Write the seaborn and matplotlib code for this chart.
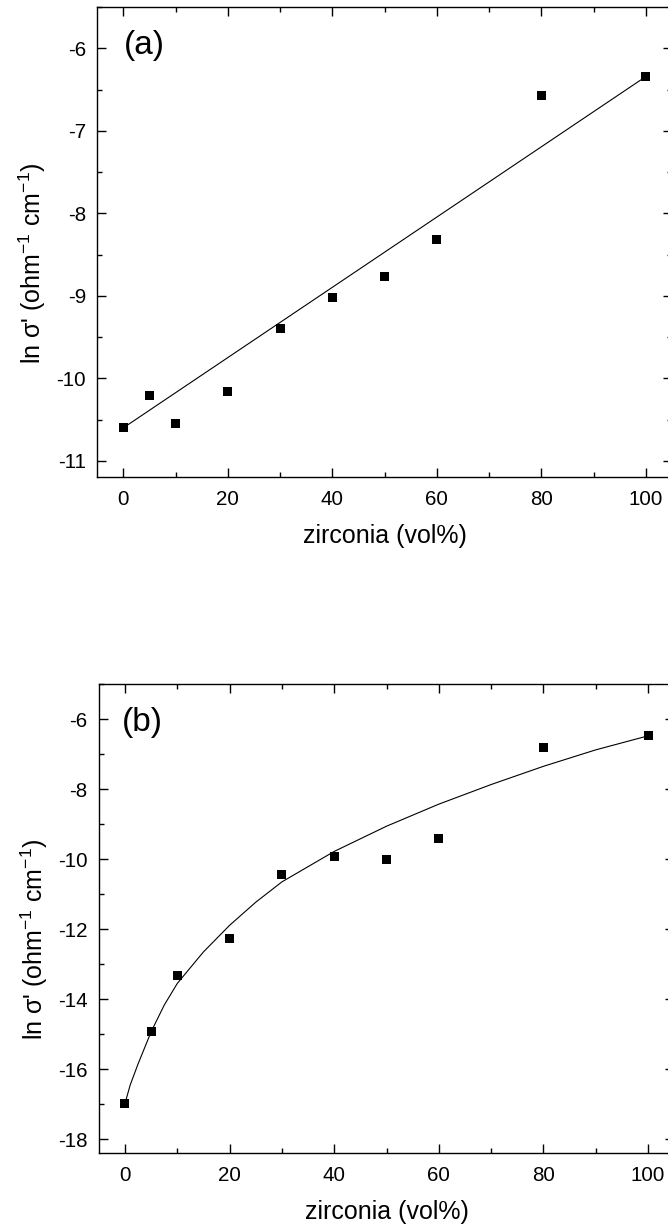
import numpy as np
import pandas as pd
import matplotlib
matplotlib.use('Agg')
import matplotlib.pyplot as plt
from matplotlib.ticker import MultipleLocator
import seaborn as sns

# ----------------------------
# Data
# ----------------------------
zirconia = [0, 5, 10, 20, 30, 40, 50, 60, 80, 100]

# (a) measured ln sigma'
ln_sigma_a = [-10.60, -10.21, -10.55, -10.16, -9.40, -9.02, -8.76, -8.32, -6.57, -6.34]
# (a) straight fit line end points
fit_a_x = [0, 100]
fit_a_y = [-10.60, -6.34]

# (b) measured ln sigma'
ln_sigma_b = [-16.98, -14.93, -13.32, -12.27, -10.43, -9.92, -10.01, -9.42, -6.82, -6.46]
# (b) fitted curve, read along its path
fit_b_x = [0, 1, 2.5, 5, 7.5, 10, 15, 20, 25, 30, 40, 50, 60, 70, 80, 90, 100]
fit_b_y = [-16.98, -16.45, -15.85, -14.93, -14.17, -13.55, -12.65, -11.89, -11.23, -10.65,
           -9.78, -9.06, -8.43, -7.87, -7.35, -6.88, -6.48]

df_a = pd.DataFrame({'zirconia': zirconia, 'ln_sigma': ln_sigma_a})
df_b = pd.DataFrame({'zirconia': zirconia, 'ln_sigma': ln_sigma_b})
fit_a = pd.DataFrame({'zirconia': fit_a_x, 'ln_sigma': fit_a_y})
fit_b = pd.DataFrame({'zirconia': fit_b_x, 'ln_sigma': fit_b_y})

# ----------------------------
# Style
# ----------------------------
sns.set_style('ticks')
plt.rcParams['font.family'] = ['Liberation Sans', 'DejaVu Sans']
plt.rcParams['mathtext.fontset'] = 'custom'
plt.rcParams['mathtext.rm'] = 'Liberation Sans'
plt.rcParams['mathtext.it'] = 'Liberation Sans:italic'
plt.rcParams['axes.unicode_minus'] = False
plt.rcParams['axes.linewidth'] = 1.0
plt.rcParams['axes.edgecolor'] = 'black'
plt.rcParams['text.color'] = 'black'
plt.rcParams['axes.labelcolor'] = 'black'
plt.rcParams['xtick.color'] = 'black'
plt.rcParams['ytick.color'] = 'black'

fig = plt.figure(figsize=(6.68, 12.28), dpi=100)
ax_a = fig.add_axes([0.1455, 0.6113, 0.8605, 0.3828])
ax_b = fig.add_axes([0.1479, 0.0608, 0.8615, 0.3822])

ylabel = "ln \u03c3' (ohm$^{-1}$ cm$^{-1}$)"


def style_axis(ax, ylim, ymajor, yminor, label_y):
    ax.set_xlim(-5, 105)
    ax.set_ylim(*ylim)
    ax.xaxis.set_major_locator(MultipleLocator(20))
    ax.xaxis.set_minor_locator(MultipleLocator(10))
    ax.yaxis.set_major_locator(MultipleLocator(ymajor))
    ax.yaxis.set_minor_locator(MultipleLocator(yminor))
    ax.tick_params(which='both', direction='in', top=True, right=True,
                   color='black', width=1.0, labelsize=14.8, labelcolor='black')
    ax.tick_params(which='major', length=6.3)
    ax.tick_params(which='minor', length=3.8)
    ax.tick_params(axis='x', which='major', pad=9)
    ax.tick_params(axis='y', which='major', pad=8)
    for s in ax.spines.values():
        s.set_visible(True)
        s.set_color('black')
    ax.set_xlabel('zirconia (vol%)', fontsize=18, labelpad=11, color='black')
    ax.set_ylabel(ylabel, fontsize=18, color='black')
    ax.yaxis.set_label_coords(-0.085, label_y)


# ----------------------------
# (a)
# ----------------------------
sns.lineplot(x='zirconia', y='ln_sigma', data=fit_a, ax=ax_a, color='black', linewidth=0.8)
sns.scatterplot(x='zirconia', y='ln_sigma', data=df_a, ax=ax_a, marker='s', s=42,
                color='black', edgecolor='none', zorder=3)
style_axis(ax_a, (-11.2, -5.5), 1, 0.5, 0.456)
ax_a.text(0.046, 0.919, '(a)', transform=ax_a.transAxes, fontsize=24,
          va='center', ha='left', color='black')

# ----------------------------
# (b)
# ----------------------------
sns.lineplot(x='zirconia', y='ln_sigma', data=fit_b, ax=ax_b, color='black', linewidth=0.8)
sns.scatterplot(x='zirconia', y='ln_sigma', data=df_b, ax=ax_b, marker='s', s=42,
                color='black', edgecolor='none', zorder=3)
style_axis(ax_b, (-18.4, -5.0), 2, 1, 0.456)
ax_b.text(0.040, 0.918, '(b)', transform=ax_b.transAxes, fontsize=24,
          va='center', ha='left', color='black')

fig.savefig('out.png', dpi=100, facecolor='white')
